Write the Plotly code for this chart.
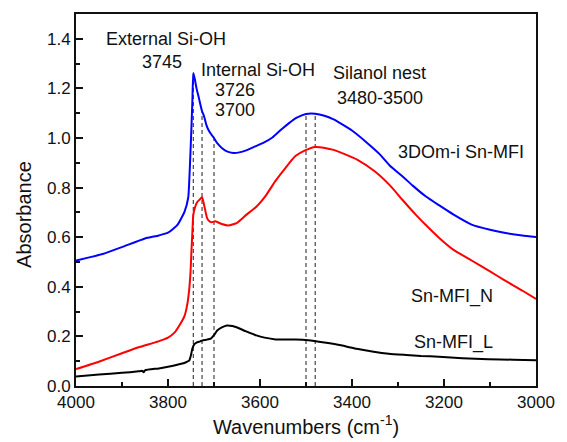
import numpy as np
import plotly.graph_objects as go

# FTIR spectra in the O-H stretching region (wavenumber in cm-1, absorbance)
wn_3dom = [4000, 3942, 3899, 3850, 3820, 3800, 3779, 3764, 3756, 3753,
           3751, 3749, 3747, 3745, 3742, 3738, 3734, 3729, 3726, 3722, 3717, 3712,
           3705, 3700, 3693, 3683, 3672, 3658, 3645, 3630, 3612, 3594, 3573, 3555,
           3537, 3520, 3500, 3480, 3460, 3440, 3424, 3400, 3367, 3340, 3317, 3290,
           3268, 3240, 3211, 3180, 3140, 3100, 3069, 3030, 3000]
abs_3dom = [0.506, 0.532, 0.561, 0.595, 0.607, 0.618, 0.651, 0.703, 0.760, 0.860,
            0.950, 1.045, 1.150, 1.262, 1.240, 1.200, 1.170, 1.130, 1.108, 1.090, 1.055, 1.032,
            1.012, 1.000, 0.979, 0.960, 0.946, 0.940, 0.942, 0.950, 0.965, 0.979, 1.002, 1.032,
            1.060, 1.082, 1.097, 1.098, 1.090, 1.075, 1.058, 1.030, 0.980, 0.935, 0.887, 0.845,
            0.808, 0.765, 0.729, 0.692, 0.651, 0.630, 0.618, 0.607, 0.601]

wn_n = [4000, 3949, 3900, 3864, 3821, 3800, 3786, 3775, 3764, 3758, 3754,
        3751, 3749, 3747, 3745, 3741, 3737, 3731, 3726, 3721, 3715, 3710, 3706,
        3697, 3683, 3669, 3651, 3630, 3608, 3587, 3566, 3544, 3523, 3502,
        3480, 3459, 3440, 3420, 3388, 3350, 3317, 3290, 3261, 3240,
        3211, 3180, 3140, 3100, 3069, 3030, 3000]
abs_n = [0.068, 0.099, 0.132, 0.156, 0.180, 0.195, 0.215, 0.245, 0.283, 0.330, 0.388,
         0.460, 0.546, 0.620, 0.690, 0.722, 0.740, 0.752, 0.761, 0.725, 0.677, 0.664, 0.660,
         0.664, 0.653, 0.647, 0.657, 0.690, 0.723, 0.769, 0.828, 0.881, 0.927, 0.950,
         0.964, 0.960, 0.952, 0.938, 0.912, 0.865, 0.808, 0.750, 0.690, 0.650,
         0.598, 0.550, 0.506, 0.462, 0.427, 0.385, 0.351]

wn_l = [4000, 3950, 3900, 3864, 3856, 3853, 3850, 3820, 3800, 3780, 3762, 3754, 3750, 3747,
        3743, 3738, 3730, 3725, 3715, 3707, 3700, 3693, 3683, 3672, 3660, 3651,
        3630, 3608, 3590, 3566, 3523, 3495, 3460, 3424, 3390, 3353, 3320, 3282,
        3250, 3211, 3160, 3104, 3050, 3000]
abs_l = [0.038, 0.046, 0.053, 0.059, 0.061, 0.055, 0.063, 0.071, 0.078, 0.086, 0.095, 0.102, 0.125, 0.151,
         0.168, 0.175, 0.180, 0.184, 0.187, 0.191, 0.205, 0.224, 0.236, 0.244, 0.242, 0.237,
         0.220, 0.204, 0.195, 0.188, 0.187, 0.184, 0.175, 0.164, 0.150, 0.138, 0.130, 0.125,
         0.121, 0.118, 0.112, 0.108, 0.106, 0.104]

# Band positions marked with dashed guides (cm-1)
band_positions = [3745, 3726, 3700, 3500, 3480]

series_names = ["3DOm-i Sn-MFI", "Sn-MFI_N", "Sn-MFI_L"]
y_ticks = [0.0, 0.2, 0.4, 0.6, 0.8, 1.0, 1.2, 1.4]
x_ticks = [4000, 3800, 3600, 3400, 3200, 3000]

FONT = "Arial, Liberation Sans, sans-serif"

fig = go.Figure()

# dashed guides from the baseline up to the top spectrum
wn_asc = np.array(wn_3dom[::-1], dtype=float)
ab_asc = np.array(abs_3dom[::-1], dtype=float)
gx, gy = [], []
for b in band_positions:
    top = float(np.interp(b, wn_asc, ab_asc))
    gx += [b, b, None]
    gy += [0, top, None]
fig.add_trace(go.Scatter(x=gx, y=gy, mode="lines",
                         line=dict(color="#333333", width=1.1, dash="4px,3px"),
                         hoverinfo="skip", showlegend=False))

for wn, ab, col, name in [(wn_3dom, abs_3dom, "#0000FF", series_names[0]),
                          (wn_n, abs_n, "#FF0000", series_names[1]),
                          (wn_l, abs_l, "#000000", series_names[2])]:
    fig.add_trace(go.Scatter(x=wn, y=ab, mode="lines", name=name,
                             line=dict(color=col, width=2, shape="spline", smoothing=0.5),
                             showlegend=False))

labels = [
    ("External Si-OH", 3805, 1.400),
    ("3745", 3813, 1.308),
    ("Internal Si-OH", 3604, 1.275),
    ("3726", 3655, 1.195),
    ("3700", 3655, 1.111),
    ("Silanol nest", 3341, 1.262),
    ("3480-3500", 3340, 1.162),
    (series_names[0], 3163, 0.942),
    (series_names[1], 3182, 0.362),
    (series_names[2], 3180, 0.177),
]
for txt, x, y in labels:
    fig.add_annotation(x=x, y=y, text=txt, showarrow=False, xanchor="center",
                       yanchor="middle", font=dict(family=FONT, size=18, color="#111111"))

fig.add_annotation(xref="paper", yref="paper", x=-0.113, y=0.46, text="Absorbance",
                   textangle=-90, showarrow=False, xanchor="center", yanchor="middle",
                   font=dict(family=FONT, size=20, color="#111111"))

fig.update_layout(
    width=567, height=442,
    margin=dict(l=76, r=21, t=12, b=50),
    paper_bgcolor="white", plot_bgcolor="white",
    font=dict(family=FONT, size=17, color="#111111"),
    xaxis=dict(range=[4000, 3000], tickvals=x_ticks, ticks="inside", ticklen=7,
               tickwidth=1.5, tickcolor="#111111", showline=True, linecolor="#111111",
               linewidth=1.8, mirror=True, showgrid=False, zeroline=False,
               minor=dict(dtick=100, ticks="inside", ticklen=4, tickwidth=1.5,
                          tickcolor="#111111", showgrid=False),
               title=dict(text="Wavenumbers (cm<sup>-1</sup>)", standoff=4,
                          font=dict(family=FONT, size=20, color="#111111")),
               tickfont=dict(family=FONT, size=17)),
    yaxis=dict(range=[0, 1.5], tickvals=y_ticks, tickformat=".1f", ticks="inside",
               ticklen=7, tickwidth=1.5, tickcolor="#111111", showline=True,
               linecolor="#111111", linewidth=1.8, mirror=True, showgrid=False,
               zeroline=False,
               minor=dict(dtick=0.1, ticks="inside", ticklen=4, tickwidth=1.5,
                          tickcolor="#111111", showgrid=False),
               tickfont=dict(family=FONT, size=17)),
)

fig.write_html("out.html")
